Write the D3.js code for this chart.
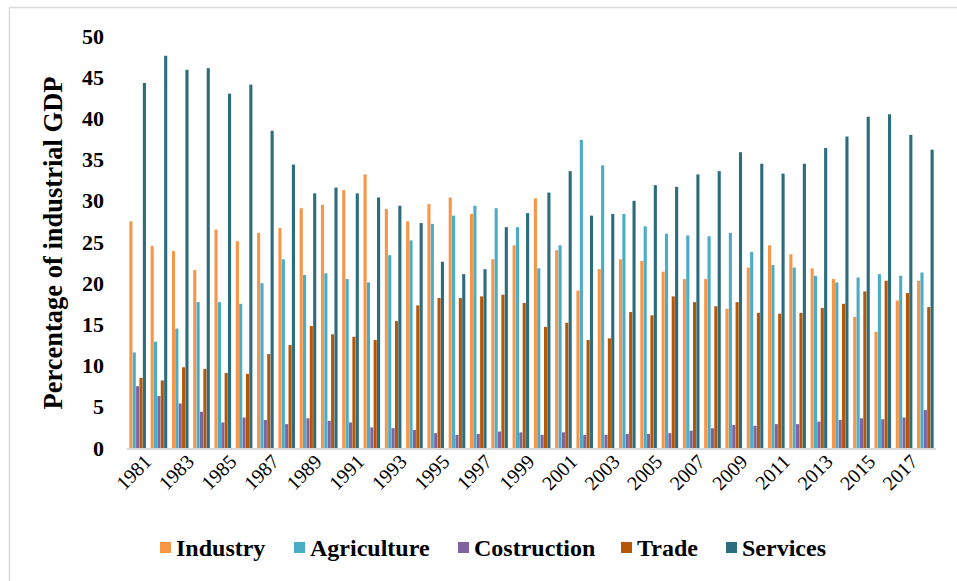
<!DOCTYPE html>
<html>
<head>
<meta charset="utf-8">
<script src="https://cdn.jsdelivr.net/npm/d3@7"></script>
<style>
  html, body { margin: 0; padding: 0; background: #fff; }
  svg { display: block; }
  text { font-family: "Liberation Serif", "Times New Roman", serif; fill: #000; }
</style>
</head>
<body>
<svg id="chart" width="957" height="581"></svg>
<script>
// Sector shares of GDP, 1981–2018 (percent)
const years = d3.range(1981, 2019).map(String);

const industry = [27.5, 24.5, 23.9, 21.6, 26.5, 25.1, 26.1, 26.7, 29.1, 29.5,
                  31.3, 33.2, 29.0, 27.5, 29.6, 30.4, 28.4, 22.9, 24.6, 30.3,
                  24.0, 19.1, 21.7, 22.9, 22.7, 21.4, 20.5, 20.5, 16.9, 21.9,
                  24.6, 23.5, 21.8, 20.5, 15.9, 14.1, 17.9, 20.3];
const agriculture = [11.6, 12.9, 14.5, 17.7, 17.7, 17.5, 20.0, 22.9, 21.0, 21.2,
                     20.5, 20.1, 23.4, 25.2, 27.2, 28.2, 29.4, 29.1, 26.8, 21.8,
                     24.6, 37.4, 34.3, 28.4, 26.9, 26.0, 25.8, 25.7, 26.1, 23.8,
                     22.2, 21.9, 20.9, 20.1, 20.7, 21.1, 20.9, 21.3];
const construction = [7.5, 6.3, 5.4, 4.4, 3.1, 3.7, 3.4, 2.9, 3.6, 3.3,
                      3.1, 2.5, 2.4, 2.2, 1.8, 1.6, 1.7, 2.0, 1.9, 1.6,
                      1.9, 1.6, 1.6, 1.7, 1.7, 1.8, 2.1, 2.4, 2.8, 2.7,
                      2.9, 2.9, 3.2, 3.4, 3.6, 3.5, 3.7, 4.6];
const trade = [8.5, 8.2, 9.8, 9.6, 9.1, 9.0, 11.4, 12.5, 14.8, 13.8,
               13.5, 13.1, 15.4, 17.3, 18.2, 18.2, 18.4, 18.6, 17.6, 14.7,
               15.2, 13.1, 13.3, 16.5, 16.1, 18.4, 17.7, 17.2, 17.7, 16.4,
               16.3, 16.4, 17.0, 17.5, 19.0, 20.3, 18.8, 17.1];
const services = [44.3, 47.6, 45.9, 46.1, 43.0, 44.1, 38.5, 34.4, 30.9, 31.6,
                  30.9, 30.4, 29.4, 27.3, 22.6, 21.1, 21.7, 26.8, 28.5, 31.0,
                  33.6, 28.2, 28.4, 30.0, 31.9, 31.7, 33.2, 33.6, 35.9, 34.5,
                  33.3, 34.5, 36.4, 37.8, 40.2, 40.5, 38.0, 36.2];

const seriesNames = ["Industry", "Agriculture", "Costruction", "Trade", "Services"];
const seriesValues = [industry, agriculture, construction, trade, services];
const seriesColors = ["#F79646", "#4BACC6", "#8064A2", "#B65708", "#2B6D7D"];

const yTicks = [0, 5, 10, 15, 20, 25, 30, 35, 40, 45, 50];
const xLabelYears = years.filter((d, i) => i % 2 === 0);

const svg = d3.select("#chart");

// outer frame (top and left edges)
svg.append("line").attr("x1", 9.5).attr("x2", 957).attr("y1", 7.5).attr("y2", 7.5)
  .attr("stroke", "#d9d9d9").attr("stroke-width", 1.5);
svg.append("line").attr("x1", 9.5).attr("x2", 9.5).attr("y1", 7.5).attr("y2", 581)
  .attr("stroke", "#d9d9d9").attr("stroke-width", 1.5);

const x = d3.scaleBand().domain(years).range([127, 936]).paddingInner(0.22).paddingOuter(0.11);
const xs = d3.scaleBand().domain(seriesNames).range([0, x.bandwidth()]).paddingInner(0.08);
const y = d3.scaleLinear().domain([0, 50]).range([448, 36]);

// bars
const rows = years.map((yr, i) => ({ year: yr, values: seriesNames.map((s, j) => ({ s, j, v: seriesValues[j][i] })) }));
const groups = svg.append("g").selectAll("g").data(rows).join("g")
  .attr("transform", d => `translate(${x(d.year)},0)`);
groups.selectAll("rect").data(d => d.values).join("rect")
  .attr("x", d => xs(d.s))
  .attr("width", xs.bandwidth())
  .attr("y", d => y(d.v))
  .attr("height", d => y(0) - y(d.v))
  .attr("fill", d => seriesColors[d.j]);

// baseline
svg.append("line").attr("x1", 127).attr("x2", 936).attr("y1", 449).attr("y2", 449)
  .attr("stroke", "#d9d9d9").attr("stroke-width", 2);

// y axis labels
const yAxis = d3.axisLeft(y).tickValues(yTicks).tickSize(0).tickPadding(0);
const gy = svg.append("g").attr("transform", "translate(104,0)").call(yAxis);
gy.select(".domain").remove();
gy.selectAll("text")
  .style("font-family", '"Liberation Serif", "Times New Roman", serif')
  .style("font-size", "22px").style("font-weight", "bold").attr("fill", "#000");

// x axis labels, every other year, rotated
const xAxis = d3.axisBottom(x).tickValues(xLabelYears).tickSize(0).tickPadding(0);
const gx = svg.append("g").attr("transform", "translate(0,452)").call(xAxis);
gx.select(".domain").remove();
gx.selectAll("text")
  .style("font-family", '"Liberation Serif", "Times New Roman", serif')
  .style("font-size", "20px").attr("fill", "#000")
  .attr("text-anchor", "end").attr("dy", "0.71em")
  .attr("transform", "translate(5,1) rotate(-45)");

// y axis title
svg.append("text")
  .attr("transform", "translate(62,243) rotate(-90)")
  .attr("text-anchor", "middle")
  .style("font-size", "26.5px").style("font-weight", "bold")
  .text("Percentage of industrial GDP");

// legend
const legendTextX = [176, 310, 474, 637, 742];
const lg = svg.append("g").selectAll("g").data(seriesNames).join("g")
  .attr("transform", (d, i) => `translate(${legendTextX[i]},0)`);
lg.append("rect").attr("x", -16).attr("y", 542).attr("width", 11).attr("height", 11)
  .attr("fill", (d, i) => seriesColors[i]);
lg.append("text").attr("x", 0).attr("y", 556)
  .style("font-size", "24px").style("font-weight", "bold")
  .text(d => d);
</script>
</body>
</html>
